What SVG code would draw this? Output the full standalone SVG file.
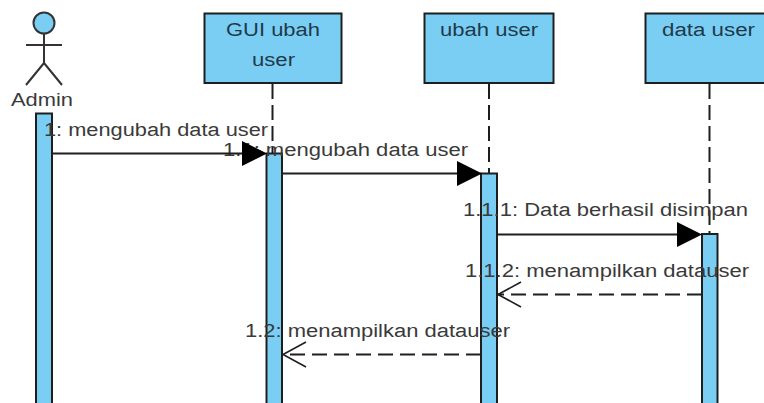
<svg xmlns="http://www.w3.org/2000/svg" width="764" height="403" viewBox="0 0 764 403">
<style>
.box{fill:#7acef4;stroke:#1e1e1e;stroke-width:2}
.act{fill:#7acef4;stroke:#1e1e1e;stroke-width:2}
.life{fill:none;stroke:#1e1e1e;stroke-width:2;stroke-dasharray:15 6}
.msg{fill:none;stroke:#1e1e1e;stroke-width:2}
.ret{fill:none;stroke:#1e1e1e;stroke-width:2;stroke-dasharray:15 7}
.open{fill:none;stroke:#1e1e1e;stroke-width:1.6}
.stick{fill:none;stroke:#333;stroke-width:2}
.head{fill:#000}
text{font-family:"Liberation Sans",Arial,sans-serif;font-size:18px;fill:#3a3a3a;text-anchor:start}
.name{fill:#1f3a4a}
</style>
<rect width="764" height="403" fill="#fff"/>
<g id="lifelines">
<line class="life" x1="272.500" y1="84" x2="272.500" y2="153"/>
<line class="life" x1="489" y1="84" x2="489" y2="173"/>
<line class="life" x1="709.500" y1="84" x2="709.500" y2="234"/>
</g>
<g id="admin">
<circle cx="44" cy="23" r="10.500" fill="#7acef4" stroke="#333" stroke-width="2"/>
<path class="stick" d="M44 34V63M26 45H62M44 63L26 85M44 63L62 85"/>
<text x="11" y="106" textLength="62" lengthAdjust="spacingAndGlyphs">Admin</text>
<rect class="act" x="36" y="113.500" width="16" height="295"/>
</g>
<g id="gui-ubah-user">
<rect class="box" x="204.500" y="13.500" width="137" height="69.500"/>
<text class="name" x="226" y="36" textLength="94" lengthAdjust="spacingAndGlyphs">GUI ubah</text>
<text class="name" x="252" y="66" textLength="43" lengthAdjust="spacingAndGlyphs">user</text>
<rect class="act" x="266.500" y="153.500" width="15.500" height="255"/>
</g>
<g id="ubah-user">
<rect class="box" x="424.500" y="13.500" width="129" height="69.500"/>
<text class="name" x="440" y="36" textLength="98" lengthAdjust="spacingAndGlyphs">ubah user</text>
<rect class="act" x="481" y="173.500" width="16" height="235"/>
</g>
<g id="data-user">
<rect class="box" x="645.500" y="13.500" width="129" height="69.500"/>
<text class="name" x="662" y="36" textLength="93" lengthAdjust="spacingAndGlyphs">data user</text>
<rect class="act" x="702" y="234" width="15.500" height="175"/>
</g>
<g id="labels">
<text x="44" y="136" textLength="224" lengthAdjust="spacingAndGlyphs">1: mengubah data user</text>
<text x="223" y="156" textLength="245" lengthAdjust="spacingAndGlyphs">1.1: mengubah data user</text>
<text x="463" y="216" textLength="285" lengthAdjust="spacingAndGlyphs">1.1.1: Data berhasil disimpan</text>
<text x="465" y="277" textLength="284" lengthAdjust="spacingAndGlyphs">1.1.2: menampilkan datauser</text>
<text x="245" y="337" textLength="265" lengthAdjust="spacingAndGlyphs">1.2: menampilkan datauser</text>
</g>
<g id="connectors">
<line class="msg" x1="52" y1="153.500" x2="245" y2="153.500"/>
<path class="head" d="M242 141L267 153.500L242 166Z"/>
<line class="msg" x1="282" y1="173.500" x2="460" y2="173.500"/>
<path class="head" d="M457 161L482 173.500L457 186Z"/>
<line class="msg" x1="497" y1="234.500" x2="680" y2="234.500"/>
<path class="head" d="M677 222L702 234.500L677 247Z"/>
<line class="ret" x1="702" y1="294.500" x2="498" y2="294.500"/>
<path class="open" d="M521 282L498 294.500L521 307"/>
<line class="ret" x1="481" y1="354.500" x2="283" y2="354.500"/>
<path class="open" d="M306 342L283 354.500L306 367"/>
</g>
</svg>
